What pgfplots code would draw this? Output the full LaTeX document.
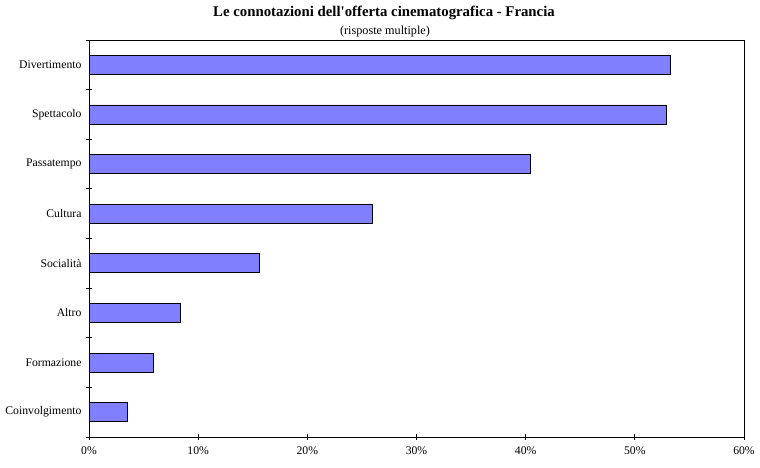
\documentclass[border=0pt]{standalone}
\usepackage{pgfplots}
\pgfplotsset{compat=1.18}
\usepackage{fontspec}
\setmainfont{Liberation Serif}
\definecolor{barblue}{RGB}{128,128,255}
\begin{document}
\begin{tikzpicture}[x=1pt,y=1pt]
\useasboundingbox (0,0) rectangle (760,468);
\node[font=\fontsize{14.8}{16}\selectfont\bfseries] at (384,455) {Le connotazioni dell\textquotesingle offerta cinematografica - Francia};
\node[font=\fontsize{12.2}{14}\selectfont] at (385,436) {(risposte multiple)};
\begin{axis}[
  at={(89pt,31pt)}, anchor=south west,
  scale only axis, width=655pt, height=397pt,
  xbar, bar width=19pt,
  xmin=0, xmax=60,
  ymin=-0.5, ymax=7.5,
  xtick={0,10,...,60},
  xticklabels={0\%,10\%,20\%,30\%,40\%,50\%,60\%},
  ytick={0,...,7},
  yticklabels={Coinvolgimento,Formazione,Altro,Socialità,Cultura,Passatempo,Spettacolo,Divertimento},
  minor ytick={-0.5,0.5,...,7.5},
  tick align=center,
  major tick length=6pt,
  minor tick length=6pt,
  y tick style={draw=none},
  minor y tick style={draw=black, thick},
  x tick style={thick, black},
  axis line style={thick},
  tick label style={font=\fontsize{11.7}{13}\selectfont},
  /pgf/number format/assume math mode=true,
  yticklabel style={xshift=-1pt},
  xticklabel style={yshift=-3pt},
  axis x line*=bottom, axis y line*=left,
  clip=false,
]
\addplot[fill=barblue, draw=black, thick] coordinates {
(3.5,0) (5.9,1) (8.4,2) (15.6,3) (26.0,4) (40.4,5) (52.9,6) (53.3,7)};
\draw[thick] (axis cs:0,7.5) -- (axis cs:60,7.5) -- (axis cs:60,-0.5);
\end{axis}
\end{tikzpicture}
\end{document}
